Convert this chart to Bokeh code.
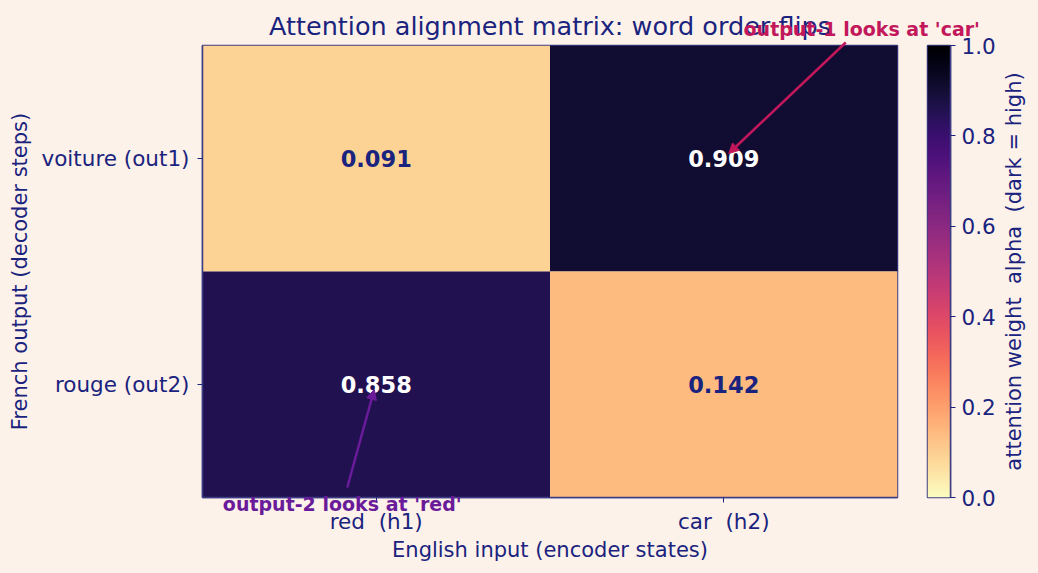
import numpy as np
from bokeh.plotting import figure
from bokeh.layouts import row
from bokeh.models import (ColumnDataSource, LinearColorMapper, Arrow, NormalHead, Label,
                          FactorRange, Range1d, FixedTicker, GridBox)
from bokeh.palettes import Magma256
from bokeh.transform import transform
from bokeh.core.properties import value
from bokeh.embed import file_html
from bokeh.resources import INLINE

NB = "\u00a0"
# ---- data ----
inputs = ["red" + NB + " (h1)", "car" + NB + " (h2)"]
outputs = ["rouge (out2)", "voiture (out1)"]
cell_x = [inputs[0], inputs[1], inputs[0], inputs[1]]
cell_y = ["voiture (out1)", "voiture (out1)", "rouge (out2)", "rouge (out2)"]
weights = [0.091, 0.909, 0.858, 0.142]
cbar_ticks = [0.0, 0.2, 0.4, 0.6, 0.8, 1.0]

BG = "#fdf2e9"
NAVY = "#1a237e"
EDGE = "#3d3d85"
FONT = "DejaVu Sans"
C1 = "#c2185b"
C2 = "#6a1b9a"

W, H = 1038, 573
FL, FT, FW, FH = 202, 45, 695, 452   # frame geometry (px)

palette = list(Magma256[::-1])
mapper = LinearColorMapper(palette=palette, low=0.0, high=1.0)

src = ColumnDataSource(dict(
    x=cell_x, y=cell_y, w=weights,
    label=[f"{v:.3f}" for v in weights],
    tcol=["white" if v > 0.5 else NAVY for v in weights],
))

p = figure(x_range=FactorRange(*inputs), y_range=FactorRange(*outputs),
           frame_width=FW, frame_height=FH, width=907, height=H,
           min_border_left=FL, min_border_right=10, min_border_top=FT,
           min_border_bottom=H - FT - FH,
           output_backend="svg", toolbar_location=None,
           background_fill_color=BG, border_fill_color=BG)

p.rect(x="x", y="y", width=1, height=1, source=src,
       fill_color=transform("w", mapper), line_color=None)
p.text(x="x", y="y", text="label", source=src, text_color="tcol",
       text_align="center", text_baseline="middle",
       text_font=value(FONT), text_font_style="bold", text_font_size="22.5px")

p.title.text = "Attention alignment matrix: word order flips"
p.title.align = "center"
p.title.text_font = FONT
p.title.text_font_style = "normal"
p.title.text_font_size = "25.5px"
p.title.text_color = NAVY
p.title.standoff = 10

p.xaxis.axis_label = "English input (encoder states)"
p.yaxis.axis_label = "French output (decoder steps)"
for ax in (p.xaxis[0], p.yaxis[0]):
    ax.axis_label_text_font = FONT
    ax.axis_label_text_font_style = "normal"
    ax.axis_label_text_font_size = "21px"
    ax.axis_label_text_color = NAVY
    ax.major_label_text_font = FONT
    ax.major_label_text_font_size = "21.5px"
    ax.major_label_text_color = NAVY
    ax.axis_line_color = EDGE
    ax.axis_line_width = 1.5
    ax.major_tick_line_color = NAVY
    ax.major_tick_in = 0
    ax.major_tick_out = 5
    ax.minor_tick_line_color = None
    ax.major_label_standoff = 8
    ax.axis_label_standoff = 6
p.xaxis.major_label_standoff = 6
p.xaxis.axis_label_standoff = 1
p.yaxis.major_label_orientation = "horizontal"
p.xgrid.grid_line_color = None
p.ygrid.grid_line_color = None
p.outline_line_color = EDGE
p.outline_line_width = 1.5

# ---- colorbar figure ----
cb = figure(x_range=Range1d(0, 1), y_range=Range1d(0, 1),
            frame_width=23, frame_height=FH, width=131, height=H,
            min_border_left=20, min_border_right=88, min_border_top=FT,
            min_border_bottom=H - FT - FH,
            output_backend="svg", toolbar_location=None, y_axis_location="right",
            background_fill_color=BG, border_fill_color=BG)
grad = np.linspace(0, 1, 256).reshape(256, 1)
cb.image(image=[grad], x=0, y=0, dw=1, dh=1, color_mapper=mapper)
cb.xaxis.visible = False
cb.xgrid.grid_line_color = None
cb.ygrid.grid_line_color = None
cb.outline_line_color = EDGE
cb.outline_line_width = 1.5
ya = cb.yaxis[0]
ya.ticker = FixedTicker(ticks=cbar_ticks)
ya.major_label_overrides = {t: f"{t:.1f}" for t in cbar_ticks}
ya.major_label_text_font = FONT
ya.major_label_text_font_size = "21.5px"
ya.major_label_text_color = NAVY
ya.axis_line_color = EDGE
ya.axis_line_width = 1.5
ya.major_tick_line_color = NAVY
ya.major_tick_in = 0
ya.major_tick_out = 5
ya.minor_tick_line_color = None
ya.major_label_standoff = 6

# ---- transparent overlay for texts that sit outside the frames ----
ov = figure(x_range=Range1d(0, W), y_range=Range1d(0, H), width=W, height=H,
            min_border=0, output_backend="svg", toolbar_location=None,
            background_fill_alpha=0, border_fill_alpha=0)
ov.axis.visible = False
ov.grid.grid_line_color = None
ov.outline_line_color = None

def cell_px(ix, iy):
    """centre of cell (ix, iy) in overlay coords (y up)."""
    return FL + (ix + 0.5) * FW / 2, H - FT - FH + (iy + 0.5) * FH / 2

# 'car' column / 'voiture' row
cx, cy = cell_px(1, 1)
ov.add_layout(Arrow(end=NormalHead(size=10, line_color=C1, fill_color=C1, line_width=1),
                    x_start=cx + 122, y_start=cy + 116, x_end=cx + 5, y_end=cy + 5,
                    line_color=C1, line_width=2.5))
ov.add_layout(Label(x=cx + 138, y=cy + 130, text="output-1 looks at 'car'",
                    text_align="center", text_baseline="middle",
                    text_font=FONT, text_font_style="bold", text_font_size="19px",
                    text_color=C1))
# 'red' column / 'rouge' row
cx, cy = cell_px(0, 0)
ov.add_layout(Arrow(end=NormalHead(size=10, line_color=C2, fill_color=C2, line_width=1),
                    x_start=cx - 29, y_start=cy - 103, x_end=cx - 2, y_end=cy - 5,
                    line_color=C2, line_width=2.5))
ov.add_layout(Label(x=cx - 34, y=cy - 119, text="output-2 looks at 'red'",
                    text_align="center", text_baseline="middle",
                    text_font=FONT, text_font_style="bold", text_font_size="19px",
                    text_color=C2))
ov.add_layout(Label(x=1013, y=H - FT - FH / 2, angle=np.pi / 2,
                    text="attention weight" + NB + " alpha" + NB + " (dark = high)",
                    text_align="center", text_baseline="middle",
                    text_font=FONT, text_font_size="21px", text_color=NAVY))

base = row(p, cb)
layout = GridBox(children=[(base, 0, 0), (ov, 0, 0)])
layout.styles = {"background-color": BG}
open("out.html", "w").write(file_html(layout, INLINE))
